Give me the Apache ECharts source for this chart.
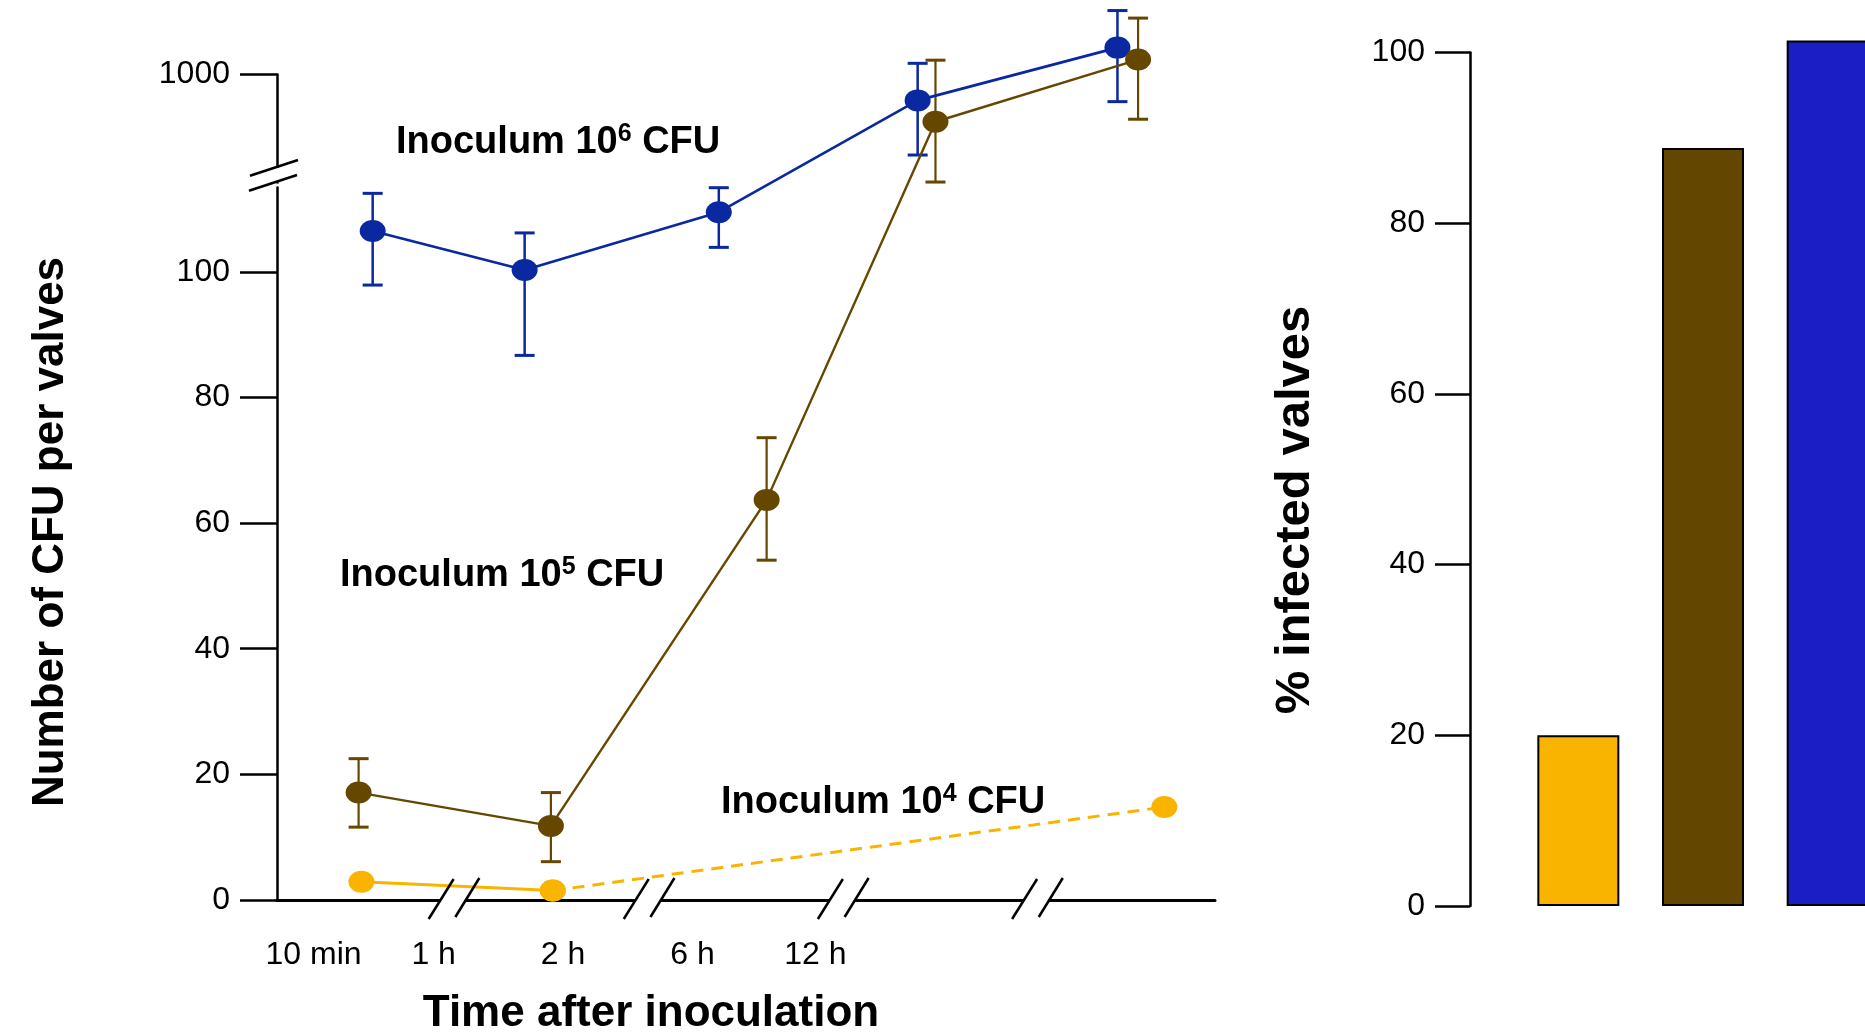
<!DOCTYPE html>
<html>
<head>
<meta charset="utf-8">
<script src="https://cdn.jsdelivr.net/npm/echarts@6/dist/echarts.min.js"></script>
<style>
html, body { margin: 0; padding: 0; background: #fff; }
#main { width: 1865px; height: 1035px; }
</style>
</head>
<body>
<div id="main"></div>
<script>
// time axis: abstract slot positions, labels as printed on the figure
var xTickValues = [3.9, 16.7, 30.5, 44.3, 57.4];
var xTickLabels = ['10 min', '1 h', '2 h', '6 h', '12 h'];
var xBreakAt = [18.8, 39.6, 60.3, 81.0];
var yTickValues = [0, 20, 40, 60, 80, 100, 1000];

// inoculum 10^6
var blueX = [10.2, 26.4, 47.1, 68.3, 89.6];
var blueMean = [106.5, 100.3, 109.5, 995.8, 1004.2];
var blueLow = [97.9, 86.7, 103.9, 987.1, 995.6];
var blueHigh = [112.5, 106.2, 113.4, 1001.7, 1010.1];

// inoculum 10^5
var brownX = [8.7, 29.2, 52.2, 70.2, 91.8];
var brownMean = [17.1, 11.8, 63.7, 992.4, 1002.3];
var brownLow = [11.6, 6.1, 54.1, 982.8, 992.8];
var brownHigh = [22.5, 17.1, 73.6, 1002.2, 1008.9];

// inoculum 10^4
var yellowX = [9.0, 29.4, 94.6];
var yellowMean = [2.9, 1.5, 14.8];

// % infected valves
var barGroups = ['Inoculum 10^4', 'Inoculum 10^5', 'Inoculum 10^6'];
var infectedPct = [20, 88.8, 101.4];

var FONT = "'Liberation Sans', Arial, Helvetica, sans-serif";
var BLUE = '#0a28a0';
var BROWN = '#654700';
var YELLOW = '#f9b400';
var barColors = ['#f9b400', '#634600', '#1a1ec4'];

var myChart = echarts.init(document.getElementById('main'));

function pairs(xs, ys) {
    return xs.map(function (x, i) { return [x, ys[i]]; });
}

function errorBars(xs, lows, highs, color, width) {
    return {
        type: 'custom',
        xAxisIndex: 0,
        yAxisIndex: 0,
        clip: false,
        data: xs.map(function (x, i) { return [x, lows[i], highs[i]]; }),
        encode: { x: 0, y: [1, 2] },
        renderItem: function (params, api) {
            var lo = api.coord([api.value(0), api.value(1)]);
            var hi = api.coord([api.value(0), api.value(2)]);
            var hw = 10;
            var st = { stroke: color, lineWidth: width };
            var cap = { stroke: color, lineWidth: 3 };
            return {
                type: 'group',
                children: [
                    { type: 'line', shape: { x1: lo[0], y1: lo[1], x2: hi[0], y2: hi[1] }, style: st },
                    { type: 'line', shape: { x1: lo[0] - hw, y1: lo[1], x2: lo[0] + hw, y2: lo[1] }, style: cap },
                    { type: 'line', shape: { x1: hi[0] - hw, y1: hi[1], x2: hi[0] + hw, y2: hi[1] }, style: cap }
                ]
            };
        }
    };
}

function lineSeries(data, color, width, dashed) {
    return {
        type: 'line',
        xAxisIndex: 0,
        yAxisIndex: 0,
        clip: false,
        data: data,
        symbol: 'circle',
        symbolSize: [26, 22],
        itemStyle: { color: color },
        lineStyle: { color: color, width: width, type: dashed ? [12, 8] : 'solid' }
    };
}

var option = {
    animation: false,
    backgroundColor: '#fff',
    grid: [
        { left: 277, top: 74, width: 938, height: 826, outerBoundsMode: 'none' },
        { left: 1516, top: 52.5, width: 374, height: 853.5, outerBoundsMode: 'none' }
    ],
    xAxis: [
        {
            type: 'value',
            gridIndex: 0,
            min: 0,
            max: 100,
            axisLine: { show: true, onZero: false, lineStyle: { color: '#000', width: 3 } },
            axisTick: { show: false },
            splitLine: { show: false },
            axisLabel: {
                customValues: xTickValues,
                formatter: function (v) {
                    var i = xTickValues.indexOf(v);
                    return i >= 0 ? xTickLabels[i] : '';
                },
                fontFamily: FONT,
                fontSize: 32,
                color: '#000',
                margin: 39
            }
        },
        {
            type: 'category',
            gridIndex: 1,
            data: barGroups,
            show: false
        }
    ],
    yAxis: [
        {
            type: 'value',
            gridIndex: 0,
            min: 0,
            max: 1000,
            breaks: [{ start: 113.5, end: 982.7, gap: 0.7 }],
            breakArea: { show: false },
            axisLine: { show: true, lineStyle: { color: '#000', width: 2.5 } },
            axisTick: { show: true, length: 37, customValues: yTickValues, lineStyle: { color: '#000', width: 2.5 } },
            splitLine: { show: false },
            axisLabel: {
                customValues: yTickValues,
                formatter: function (v) { return String(v); },
                fontFamily: FONT,
                fontSize: 32,
                color: '#000',
                margin: 47,
                padding: [0, 0, 8, 0]
            }
        },
        {
            type: 'value',
            gridIndex: 1,
            min: 0,
            max: 100,
            interval: 20,
            offset: 46,
            axisLine: { show: true, lineStyle: { color: '#000', width: 2.5 } },
            axisTick: { show: true, length: 35, lineStyle: { color: '#000', width: 2.5 } },
            splitLine: { show: false },
            axisLabel: {
                fontFamily: FONT,
                fontSize: 32,
                color: '#000',
                margin: 45,
                padding: [0, 0, 6, 0]
            }
        }
    ],
    series: [
        errorBars(blueX, blueLow, blueHigh, BLUE, 2.5),
        lineSeries(pairs(blueX, blueMean), BLUE, 2.6, false),
        errorBars(brownX, brownLow, brownHigh, BROWN, 2.2),
        lineSeries(pairs(brownX, brownMean), BROWN, 2.4, false),
        lineSeries(pairs(yellowX, yellowMean).slice(0, 2), YELLOW, 3, false),
        lineSeries(pairs(yellowX, yellowMean).slice(1), YELLOW, 3, true),
        {
            type: 'bar',
            xAxisIndex: 1,
            yAxisIndex: 1,
            clip: false,
            barWidth: 82,
            data: infectedPct.map(function (v, i) {
                return { value: v, itemStyle: { color: barColors[i] } };
            }),
            itemStyle: { borderColor: '#000', borderWidth: 2 }
        }
    ]
};

option && myChart.setOption(option);

// texts and axis break marks
var ax = myChart.convertToPixel({ xAxisIndex: 0 }, 0);
var ay = myChart.convertToPixel({ yAxisIndex: 0 }, 0);
var graphics = [];

function slash(x1, y1, x2, y2) {
    graphics.push({ type: 'line', z: 100, shape: { x1: x1, y1: y1, x2: x2, y2: y2 }, style: { stroke: '#000', lineWidth: 2.5 } });
}
function blank(x, y, w, h) {
    graphics.push({ type: 'rect', z: 99, shape: { x: x, y: y, width: w, height: h }, style: { fill: '#fff' } });
}

// y axis break
blank(ax - 6, 168, 12, 14);
slash(ax - 27, 175.7, ax + 21, 160);
slash(ax - 28, 190.7, ax + 20, 175);

// x axis breaks
xBreakAt.forEach(function (b) {
    var cx = myChart.convertToPixel({ xAxisIndex: 0 }, b);
    blank(cx - 13, ay - 5, 25, 10);
    slash(cx - 24.7, ay + 19, cx + 0.3, ay - 21);
    slash(cx + 2, ay + 17, cx + 26, ay - 22);
});

function title(text, x, y, size, rot) {
    graphics.push({
        type: 'text', x: x, y: y, rotation: rot || 0, z: 100,
        style: {
            text: text, fill: '#000',
            font: 'bold ' + size + 'px ' + FONT,
            align: 'center', verticalAlign: 'middle',
            textAlign: 'center', textVerticalAlign: 'middle'
        }
    });
}
title('Number of CFU per valves', 51, 532, 44, Math.PI / 2);
title('Time after inoculation', 651, 1014, 44, 0);
title('% infected valves', 1295, 510, 49, Math.PI / 2);

function inoculum(power, x, y) {
    graphics.push({
        type: 'text', x: x, y: y, z: 100,
        style: {
            text: '{a|Inoculum 10}{s|' + power + '}{a| CFU}',
            align: 'left', verticalAlign: 'middle',
            textAlign: 'left', textVerticalAlign: 'middle',
            rich: {
                a: { fontFamily: FONT, fontWeight: 'bold', fontSize: 38, lineHeight: 42, fill: '#000', color: '#000' },
                s: { fontFamily: FONT, fontWeight: 'bold', fontSize: 25, lineHeight: 25, fill: '#000', color: '#000', verticalAlign: 'top' }
            }
        }
    });
}
inoculum('6', 396, 143);
inoculum('5', 340, 576);
inoculum('4', 721, 803);

myChart.setOption({ graphic: graphics });
</script>
</body>
</html>
